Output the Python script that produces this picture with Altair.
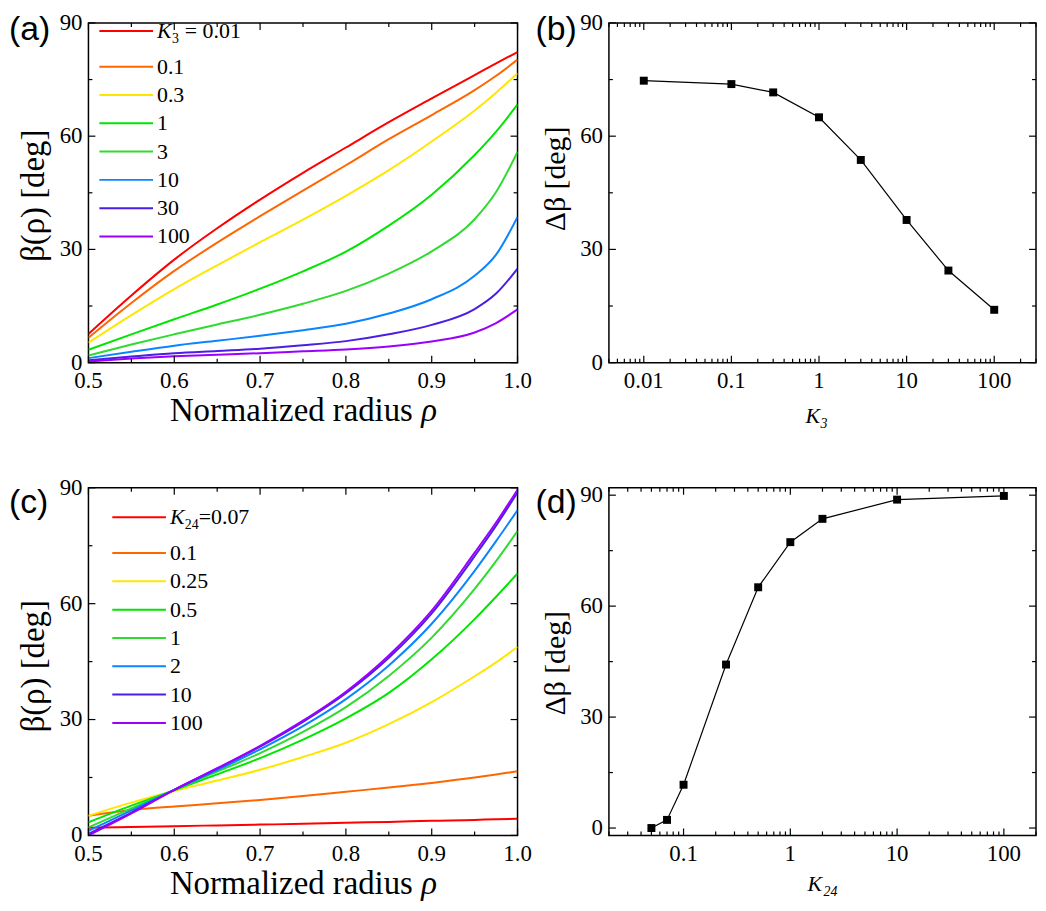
import math
import altair as alt
import pandas as pd

SERIF = "Liberation Serif"
SANS = "Liberation Sans"

# ---------------- data ----------------
rho = [0.5, 0.55, 0.6, 0.65, 0.7, 0.75, 0.8, 0.85, 0.9, 0.95, 0.975, 1.0]

# panel (a): beta(rho) for several K3
k3_values = ["0.01", "0.1", "0.3", "1", "3", "10", "30", "100"]
beta_k3_0p01 = [7.6, 17.8, 27.3, 35.6, 43.2, 50.3, 57.0, 63.7, 70.0, 76.2, 79.3, 82.3]
beta_k3_0p1 = [6.6, 15.8, 24.3, 31.8, 38.8, 45.6, 52.3, 59.2, 65.6, 72.2, 76.0, 80.3]
beta_k3_0p3 = [5.3, 12.6, 19.5, 25.8, 31.9, 37.9, 44.2, 51.0, 58.6, 66.8, 71.5, 76.7]
beta_k3_1 = [3.4, 7.5, 11.5, 15.4, 19.6, 24.2, 29.4, 36.3, 44.5, 55.0, 61.2, 68.4]
beta_k3_3 = [1.9, 4.8, 7.5, 10.1, 12.7, 15.6, 19.0, 23.6, 29.5, 38.0, 45.2, 55.8]
beta_k3_10 = [1.2, 2.9, 4.5, 5.8, 7.1, 8.6, 10.3, 13.0, 16.8, 23.0, 28.6, 38.6]
beta_k3_30 = [0.6, 1.6, 2.5, 3.1, 3.7, 4.6, 5.7, 7.5, 10.0, 14.2, 18.3, 24.9]
beta_k3_100 = [0.3, 1.1, 1.7, 2.1, 2.5, 3.0, 3.5, 4.3, 5.6, 8.0, 10.5, 14.1]
colors_k3 = ["#FF0000", "#FF6600", "#FFE600", "#00E600", "#2EDB2E",
             "#0A84FF", "#4B1EE6", "#9B00FF"]

# panel (b): delta beta vs K3
k3_points = [0.01, 0.1, 0.3, 1, 3, 10, 30, 100]
dbeta_k3 = [74.7, 73.8, 71.6, 65.0, 53.7, 37.8, 24.4, 14.0]

# panel (c): beta(rho) for several K24
k24_values = ["0.07", "0.1", "0.25", "0.5", "1", "2", "10", "100"]
beta_k24_0p07 = [2.0, 2.2, 2.4, 2.6, 2.8, 3.0, 3.3, 3.5, 3.8, 4.0, 4.2, 4.3]
beta_k24_0p1 = [5.1, 6.6, 7.5, 8.3, 9.2, 10.2, 11.3, 12.4, 13.6, 15.0, 15.8, 16.6]
beta_k24_0p25 = [5.1, 8.5, 11.5, 14.2, 17.0, 20.3, 24.0, 28.8, 34.5, 41.2, 44.8, 48.8]
beta_k24_0p5 = [3.4, 7.7, 11.7, 15.8, 20.0, 24.8, 30.3, 36.9, 45.6, 56.0, 61.8, 67.8]
beta_k24_1 = [2.1, 7.0, 11.8, 16.5, 21.3, 26.8, 33.2, 41.3, 51.2, 63.8, 71.0, 78.8]
beta_k24_2 = [1.2, 6.5, 11.8, 16.9, 22.3, 28.3, 35.3, 44.0, 54.8, 68.5, 76.2, 84.2]
beta_k24_10 = [0.4, 5.9, 11.8, 17.3, 23.0, 29.4, 36.8, 46.0, 57.5, 72.3, 80.2, 88.8]
beta_k24_100 = [0.0, 5.7, 11.8, 17.4, 23.2, 29.7, 37.2, 46.6, 58.2, 73.2, 81.0, 89.5]
colors_k24 = ["#FF0000", "#FF6600", "#FFE600", "#00E600", "#2EDB2E",
              "#0A84FF", "#4B1EE6", "#9B00FF"]

# panel (d): delta beta vs K24
k24_points = [0.05, 0.07, 0.1, 0.25, 0.5, 1, 2, 10, 100]
dbeta_k24 = [0.0, 2.2, 11.7, 44.2, 65.1, 77.3, 83.6, 88.8, 89.8]

# tick values
rho_major = [0.5, 0.6, 0.7, 0.8, 0.9, 1.0]
rho_minor = [0.55, 0.65, 0.75, 0.85, 0.95]
deg_major = [0, 30, 60, 90]
deg_minor = [15, 45, 75]

# ---------------- layout constants ----------------
WL, WR = 432, 430
H_TOP, H_BOT = 342, 350
MAJ, MNR = 7, 4


def long_table(keys, series):
    rows = []
    for k, ys in zip(keys, series):
        for r, b in zip(rho, ys):
            rows.append({"k": k, "rho": r, "beta": b})
    return pd.DataFrame(rows)


def log_ticks(lo, hi):
    major, minor = [], []
    for e in range(-4, 4):
        for m in range(1, 10):
            v = m * 10.0 ** e
            if lo * 0.999 <= v <= hi * 1.001:
                (major if m == 1 else minor).append(v)
    return major, minor


def tick_layers(xs, ys, xmaj, xmin, ymaj, ymin, W, H):
    layers = []
    for vals, L in [(xmaj, MAJ), (xmin, MNR)]:
        d = pd.DataFrame({"v": vals})
        base = alt.Chart(d).mark_rule(color="black", strokeWidth=1.2)
        xe = alt.X("v:Q", scale=xs, axis=None)
        layers.append(base.encode(x=xe, y=alt.value(H), y2=alt.value(H - L)))
        layers.append(base.encode(x=xe, y=alt.value(0), y2=alt.value(L)))
    for vals, L in [(ymaj, MAJ), (ymin, MNR)]:
        d = pd.DataFrame({"v": vals})
        base = alt.Chart(d).mark_rule(color="black", strokeWidth=1.2)
        ye = alt.Y("v:Q", scale=ys, axis=None)
        layers.append(base.encode(y=ye, x=alt.value(0), x2=alt.value(L)))
        layers.append(base.encode(y=ye, x=alt.value(W), x2=alt.value(W - L)))
    return layers


def tick_label_layers(xs, ys, xvals, xlabs, yvals, ylabs, H):
    dx = pd.DataFrame({"v": xvals, "lab": xlabs})
    dy = pd.DataFrame({"v": yvals, "lab": ylabs})
    lx = alt.Chart(dx).mark_text(font=SERIF, fontSize=23, align="center", baseline="middle",
                                 color="black").encode(
        x=alt.X("v:Q", scale=xs, axis=None), y=alt.value(H + 18.5), text="lab:N")
    ly = alt.Chart(dy).mark_text(font=SERIF, fontSize=23, align="right", baseline="middle",
                                 color="black").encode(
        y=alt.Y("v:Q", scale=ys, axis=None), x=alt.value(-6), text="lab:N")
    return [lx, ly]


def panel_label(txt, x, y):
    return alt.Chart(pd.DataFrame({"t": [txt]})).mark_text(
        align="left", baseline="top", font=SANS, fontSize=34, color="black"
    ).encode(x=alt.value(x), y=alt.value(y), text="t:N")


def text_piece(txt, x, y, size, style="normal", align="left", baseline="middle", angle=0):
    return alt.Chart(pd.DataFrame({"t": [txt]})).mark_text(
        align=align, baseline=baseline, font=SERIF, fontSize=size,
        fontStyle=style, color="black", angle=angle
    ).encode(x=alt.value(x), y=alt.value(y), text="t:N")


def curve_panel(keys, series, colors, label, leg_y0, leg_x0, lab_x, first_parts, lab_pos,
                H, ytitle_y):
    df = long_table(keys, series)
    xs = alt.Scale(domain=[0.5, 1.0], nice=False, zero=False)
    ys = alt.Scale(domain=[0, 90], nice=False, zero=False)
    cs = alt.Scale(domain=keys, range=colors)
    lines = alt.Chart(df).mark_line(strokeWidth=2, interpolate="monotone", clip=True).encode(
        x=alt.X("rho:Q", scale=xs, axis=None),
        y=alt.Y("beta:Q", scale=ys, axis=None),
        color=alt.Color("k:N", scale=cs, legend=None),
    )
    ly = [leg_y0 + (0 if i == 0 else 36 + 28.5 * (i - 1)) for i in range(len(keys))]
    leg = pd.DataFrame({"k": keys, "lab": [""] + keys[1:], "ly": ly})
    leg_lines = alt.Chart(leg).mark_rule(strokeWidth=2).encode(
        x=alt.value(leg_x0), x2=alt.value(leg_x0 + 54),
        y=alt.Y("ly:Q", scale=None),
        color=alt.Color("k:N", scale=cs, legend=None),
    )
    leg_text = alt.Chart(leg.iloc[1:]).mark_text(
        align="left", baseline="middle", font=SERIF, fontSize=22, color="black"
    ).encode(x=alt.value(lab_x), y=alt.Y("ly:Q", scale=None), text="lab:N")
    pieces = [text_piece(t, x, ly[0] + dy, s, st) for (t, x, dy, s, st) in first_parts]
    titles = [
        text_piece("Normalized radius", 82, H + 59, 33, baseline="alphabetic"),
        text_piece("ρ", 335, H + 59, 33, style="italic", baseline="alphabetic"),
        text_piece("β(ρ) [deg]", -45, ytitle_y, 33, align="center", baseline="alphabetic",
                   angle=270),
    ]
    layers = ([lines, leg_lines, leg_text] + pieces
              + tick_layers(xs, ys, rho_major, rho_minor, deg_major, deg_minor, WL, H)
              + tick_label_layers(xs, ys, rho_major, [f"{v:.1f}" for v in rho_major],
                                  deg_major, [str(v) for v in deg_major], H)
              + titles + [panel_label(label, *lab_pos)])
    return alt.layer(*layers).properties(width=WL, height=H)


def point_panel(xv, yv, dom, ydom, xtitle_parts, label, lab_pos, H, ytitle_y):
    df = pd.DataFrame({"K": xv, "d": yv})
    xs = alt.Scale(type="log", domain=dom, nice=False)
    ys = alt.Scale(domain=ydom, nice=False, zero=False)
    xmaj, xmin = log_ticks(dom[0], dom[1])
    line = alt.Chart(df).mark_line(color="black", strokeWidth=1.2).encode(
        x=alt.X("K:Q", scale=xs, axis=None),
        y=alt.Y("d:Q", scale=ys, axis=None),
    )
    pts = alt.Chart(df).mark_point(shape="square", filled=True, size=64, color="black",
                                   opacity=1).encode(
        x=alt.X("K:Q", scale=xs, axis=None),
        y=alt.Y("d:Q", scale=ys, axis=None),
    )
    titles = [text_piece(t, x, H + dy, s, style="italic", baseline="alphabetic")
              for (t, x, dy, s) in xtitle_parts]
    titles.append(text_piece("Δβ [deg]", -44, ytitle_y, 30, align="center",
                             baseline="alphabetic", angle=270))
    layers = ([line, pts]
              + tick_layers(xs, ys, xmaj, xmin, deg_major, deg_minor, WR, H)
              + tick_label_layers(xs, ys, xmaj, [f"{v:g}" for v in xmaj],
                                  deg_major, [str(v) for v in deg_major], H)
              + titles + [panel_label(label, *lab_pos)])
    return alt.layer(*layers).properties(width=WR, height=H)


pa = curve_panel(
    k3_values,
    [beta_k3_0p01, beta_k3_0p1, beta_k3_0p3, beta_k3_1, beta_k3_3, beta_k3_10,
     beta_k3_30, beta_k3_100],
    colors_k3, "(a)", 8.0, 11, 69,
    [("K", 69, 0, 22, "italic"), ("3", 84, 8, 14, "normal"), ("= 0.01", 97, 0, 22, "normal")],
    (-80, -10), H_TOP, 174,
)
pb = point_panel(k3_points, dbeta_k3, [0.004, 300], [0, 90],
                 [("K", 198, 61, 22), ("3", 213, 66, 14)],
                 "(b)", (-74, -10), H_TOP, 157)
pc = curve_panel(
    k24_values,
    [beta_k24_0p07, beta_k24_0p1, beta_k24_0p25, beta_k24_0p5, beta_k24_1, beta_k24_2,
     beta_k24_10, beta_k24_100],
    colors_k24, "(c)", 29.7, 24, 82,
    [("K", 82, 0, 22, "italic"), ("24", 97, 8, 14, "normal"), ("=0.07", 111, 0, 22, "normal")],
    (-80, -2), H_BOT, 179.7,
)
pd_ = point_panel(k24_points, dbeta_k24, [0.02, 200], [-2, 92],
                  [("K", 200, 56, 22), ("24", 216, 61, 14)],
                  "(d)", (-74, -2), H_BOT, 176.7)

chart = alt.vconcat(
    alt.hconcat(pa, pb, spacing=92, bounds="flush"),
    alt.hconcat(pc, pd_, spacing=92, bounds="flush"),
    spacing=44,
).resolve_scale(color="independent").properties(
    padding={"left": 0, "top": 0, "right": 0, "bottom": 0},
    background="white",
)
chart = chart.configure(font=SERIF).configure_view(stroke="black", strokeWidth=1.5)

chart.save("out.html", embed_options={"renderer": "svg", "actions": False})
